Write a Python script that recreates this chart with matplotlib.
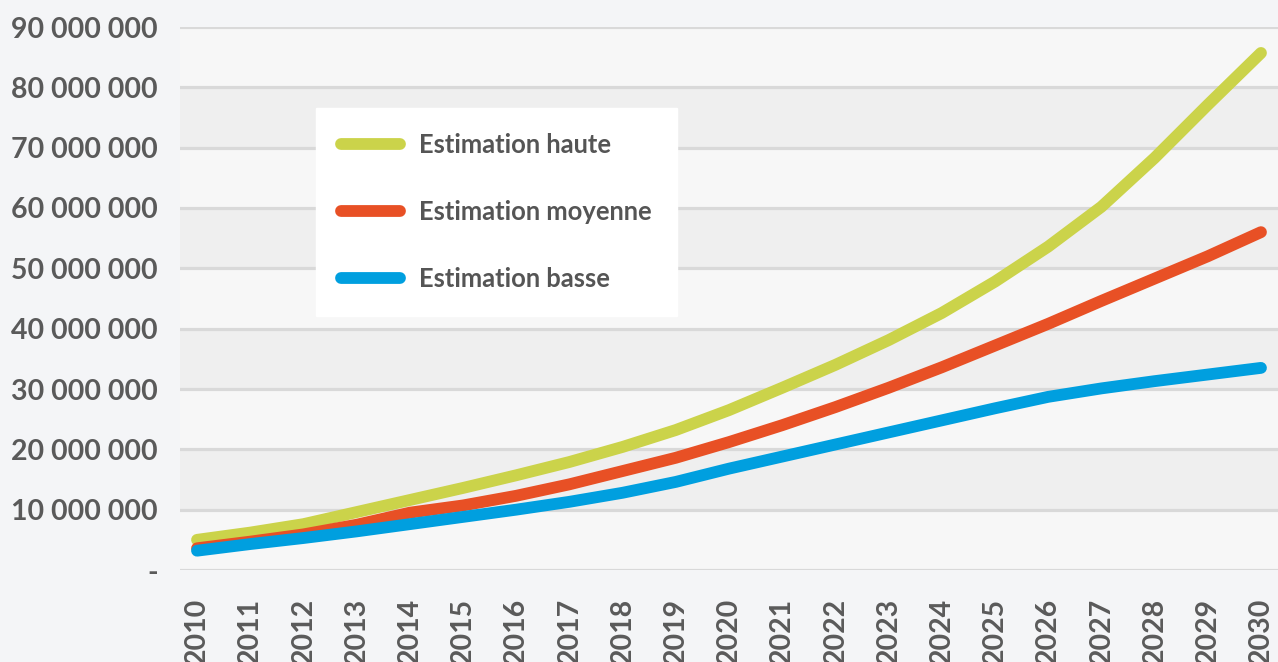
import matplotlib
matplotlib.use("Agg")
import matplotlib.pyplot as plt
from matplotlib.ticker import FuncFormatter

plt.rcParams['font.family'] = ['Lato', 'DejaVu Sans']

# data (millions)
years = list(range(2010, 2031))
haute = [5.0, 6.2, 7.6, 9.6, 11.6, 13.6, 15.7, 17.9, 20.4, 23.2, 26.5,
         30.2, 34.0, 38.1, 42.6, 47.8, 53.6, 60.2, 68.3, 77.1, 85.7]
moyenne = [3.6, 4.7, 5.9, 7.5, 9.5, 10.7, 12.3, 14.2, 16.4, 18.6, 21.2,
           24.0, 27.0, 30.2, 33.6, 37.2, 40.8, 44.6, 48.3, 52.0, 56.0]
basse = [3.2, 4.3, 5.3, 6.4, 7.6, 8.8, 10.0, 11.3, 12.8, 14.6, 16.8,
         18.8, 20.8, 22.8, 24.8, 26.8, 28.7, 30.1, 31.3, 32.4, 33.5]
labels = ['Estimation haute', 'Estimation moyenne', 'Estimation basse']
colors = ['#cbd34a', '#e85025', '#009fdf']
yticks = list(range(0, 90000001, 10000000))

fig = plt.figure(figsize=(12.78, 6.62), dpi=100)
fig.patch.set_facecolor('#f4f5f7')
ax = fig.add_axes([180/1278, 92/662, 1098/1278, 543/662])
ax.set_facecolor('#f7f7f7')

# alternating bands
for i, lo in enumerate(yticks[:-1]):
    if i % 2 == 1:
        ax.axhspan(lo, yticks[i+1], color='#efefef', zorder=0, lw=0)
for t in yticks:
    ax.axhline(t, color='#d9d9d9', lw=2.3, zorder=1)

for series, lab, c in zip([haute, moyenne, basse], labels, colors):
    ax.plot(years, [v * 1e6 for v in series], color=c, lw=8.5,
            solid_capstyle='round', solid_joinstyle='round', label=lab, zorder=3)

ax.set_xlim(2009.68, 2030.32)
ax.set_ylim(0, 90000000)
ax.set_xticks(years)
ax.set_xticklabels([str(y) for y in years], rotation=90, va='top')
ax.set_yticks(yticks)

def fmt(v, pos):
    if v == 0:
        return '-'
    return '{:,.0f}'.format(v).replace(',', ' ')

ax.yaxis.set_major_formatter(FuncFormatter(fmt))
ax.tick_params(axis='both', length=0, labelsize=20.5, labelcolor='#5a5a5a')
ax.tick_params(axis='y', pad=16)
ax.tick_params(axis='x', pad=20)
for lbl in ax.get_xticklabels() + ax.get_yticklabels():
    lbl.set_fontweight('bold')
for s in ax.spines.values():
    s.set_visible(False)

leg = ax.legend(loc='upper left', bbox_to_anchor=(316/1278, 1 - 108/662),
                bbox_transform=fig.transFigure, frameon=True, fancybox=False,
                prop={'size': 18.4, 'weight': 'bold'}, handlelength=2.3,
                handletextpad=0.75, labelspacing=1.68, borderpad=0.98,
                borderaxespad=0)
leg.get_frame().set_facecolor('white')
leg.get_frame().set_edgecolor('white')
leg.get_frame().set_alpha(1)
for t in leg.get_texts():
    t.set_color('#555555')

fig.savefig('out.png', dpi=100, facecolor=fig.get_facecolor())
